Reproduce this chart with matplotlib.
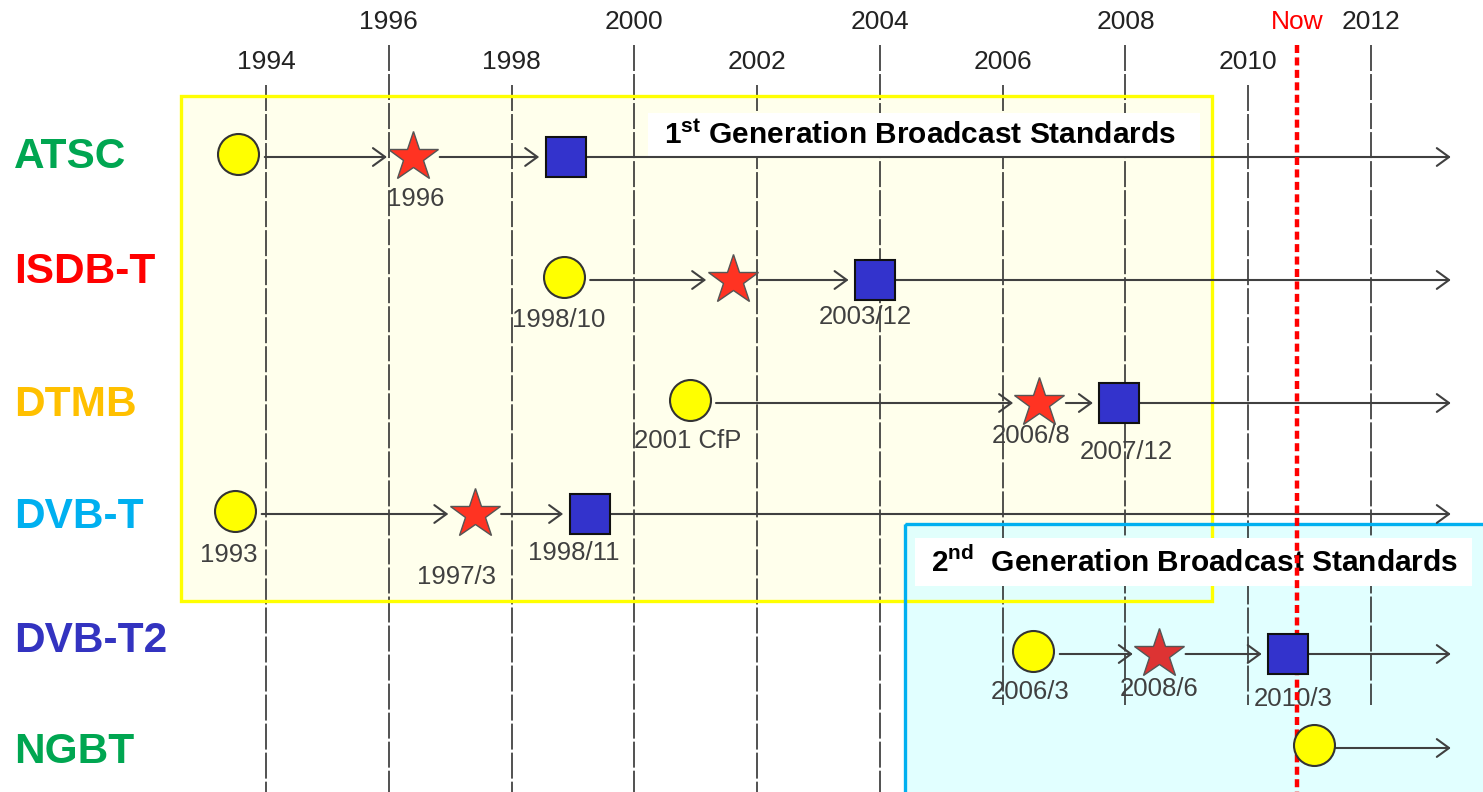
import matplotlib
matplotlib.use("Agg")
import matplotlib.pyplot as plt
from matplotlib.patches import Rectangle

plt.rcParams["font.family"] = ["Liberation Sans", "DejaVu Sans"]
plt.rcParams["mathtext.fontset"] = "custom"
plt.rcParams["mathtext.rm"] = "Liberation Sans"
plt.rcParams["mathtext.bf"] = "Liberation Sans:bold"

# ---- data -----------------------------------------------------------------
standards = ["ATSC", "ISDB-T", "DTMB", "DVB-T", "DVB-T2", "NGBT"]
standard_colors = ["#00A651", "#FF0000", "#FFC000", "#00B0F0", "#3333C0", "#00A651"]

# positions on the timeline (decimal years) and their captions
proposal_year = [1993.55, 1998.85, 2000.9, 1993.5, 2006.5, 2011.07]
proposal_label = ["", "1998/10", "2001 CfP", "1993", "2006/3", ""]
approval_year = [1996.4, 2001.6, 2006.6, 1997.4, 2008.55, None]
approval_label = ["1996", "", "2006/8", "1997/3", "2008/6", ""]
launch_year = [1998.88, 2003.92, 2007.9, 1999.27, 2010.65, None]
launch_label = ["", "2003/12", "2007/12", "1998/11", "2010/3", ""]

grid_years = [1994, 1996, 1998, 2000, 2002, 2004, 2006, 2008, 2010, 2012]
now_year = 2010.8
end_year = 2013.3

# ---- layout (pixels) ------------------------------------------------------
W, H = 1483, 792
PX_PER_YEAR = (1371 - 266) / 18.0
X0 = 1994 - 266 / PX_PER_YEAR


def px(p):
    return X0 + p / PX_PER_YEAR


row_y = [157, 280, 403, 514, 654, 748]
row_label_y = [157, 272, 405, 517, 641, 752]
# caption offsets (dx, dy) in pixels, per row: proposal, approval, launch
cap_off = [
    [(0, 0), (2, 42), (0, 0)],
    [(-5, 40), (0, 0), (-10, 37)],
    [(-2, 38), (-8, 33), (7, 49)],
    [(-7, 41), (-18, 63), (-16, 39)],
    [(-3, 38), (0, 35), (5, 45)],
    [(0, 0), (0, 0), (0, 0)],
]

fig = plt.figure(figsize=(W / 100, H / 100), dpi=100)
ax = fig.add_axes([0, 0, 1, 1])
ax.set_xlim(X0, px(W))
ax.set_ylim(H, 0)
ax.axis("off")

# generation boxes
ax.add_patch(Rectangle((px(181), 96), px(1212) - px(181), 505,
                       facecolor="#FFFFEC", edgecolor="none", zorder=0.5))
ax.add_patch(Rectangle((px(905), 524), px(1500) - px(905), 300,
                       facecolor="#DCFFFF", edgecolor="none", alpha=0.85, zorder=0.6))
ax.add_patch(Rectangle((px(181), 96), px(1212) - px(181), 505,
                       facecolor="none", edgecolor="#FFFF00", lw=2.4, zorder=3))
ax.add_patch(Rectangle((px(905), 524), px(1500) - px(905), 300,
                       facecolor="none", edgecolor="#00B0F0", lw=2.4, zorder=3))

# year grid
for i, yr in enumerate(grid_years):
    upper = i % 2 == 1
    top = 45 if upper else 85
    bottom = 705 if yr >= 2006 else H
    ax.plot([yr, yr], [top, bottom], color="#222222", lw=1.1,
            linestyle=(0, (17, 2)), zorder=2)
    ax.text(yr, 22 if upper else 62, str(yr), ha="center", va="center",
            fontsize=19, color="#222222")

# title boxes
ax.add_patch(Rectangle((px(648), 113), px(1200) - px(648), 45,
                       facecolor="white", edgecolor="none", zorder=3.5))
ax.text(px(664), 135, r"1$^{\mathbf{st}}$ Generation Broadcast Standards",
        ha="left", va="center", fontsize=21.5, fontweight="bold", zorder=4)
ax.add_patch(Rectangle((px(915), 538), px(1472) - px(915), 48,
                       facecolor="white", edgecolor="none", zorder=3.5))
ax.text(px(931), 562, r"2$^{\mathbf{nd}}$  Generation Broadcast Standards",
        ha="left", va="center", fontsize=21.5, fontweight="bold", zorder=4)

# now line
ax.plot([now_year, now_year], [45, H], color="#FF0000", lw=3.2,
        linestyle=(0, (1.8, 1.0)), zorder=5)
ax.text(now_year, 22, "Now", ha="center", va="center", fontsize=19,
        color="#FF0000")

arrow_kw = dict(arrowstyle="->,head_length=0.55,head_width=0.4",
                mutation_scale=16, lw=1.5, color="#404040")

for r, name in enumerate(standards):
    y = row_y[r]
    ax.text(px(14), row_label_y[r], name, ha="left", va="center", fontsize=30.5,
            fontweight="bold", color=standard_colors[r])

    events = [(proposal_year[r], proposal_label[r], "o"),
              (approval_year[r], approval_label[r], "*"),
              (launch_year[r], launch_label[r], "s")]
    events = [(e, k) for k, e in enumerate(events) if e[0] is not None]

    # arrows between milestones and on to the right edge
    xs = [e[0] for e, _ in events]
    for a, b in zip(xs[:-1], xs[1:]):
        ax.annotate("", xy=(b, y), xytext=(a, y),
                    arrowprops=dict(shrinkA=19, shrinkB=19, **arrow_kw), zorder=4.5)
    ax.annotate("", xy=(end_year, y), xytext=(xs[-1], y),
                arrowprops=dict(shrinkA=14, shrinkB=0, **arrow_kw), zorder=4.5)

    for (x, lab, m), k in events:
        if m == "o":
            ax.plot(x, y - 3, marker="o", ms=29.5, mfc="#FFFF00", mec="#333333",
                    mew=1.5, zorder=6)
        elif m == "*":
            ax.plot(x, y, marker="*", ms=38, mfc="#FF3322" if r < 4 else "#DD3333",
                    mec="#555555", mew=1.0, zorder=6)
        else:
            ax.plot(x, y, marker="s", ms=29, mfc="#3333CC", mec="#111111",
                    mew=1.5, zorder=6)
        if lab:
            dx, dy = cap_off[r][k]
            ax.annotate(lab, xy=(x, y), xytext=(dx * 0.72, -dy * 0.72),
                        textcoords="offset points", ha="center", va="center",
                        fontsize=18.5, color="#404040", zorder=4.8)

fig.savefig("out.png", dpi=100)
